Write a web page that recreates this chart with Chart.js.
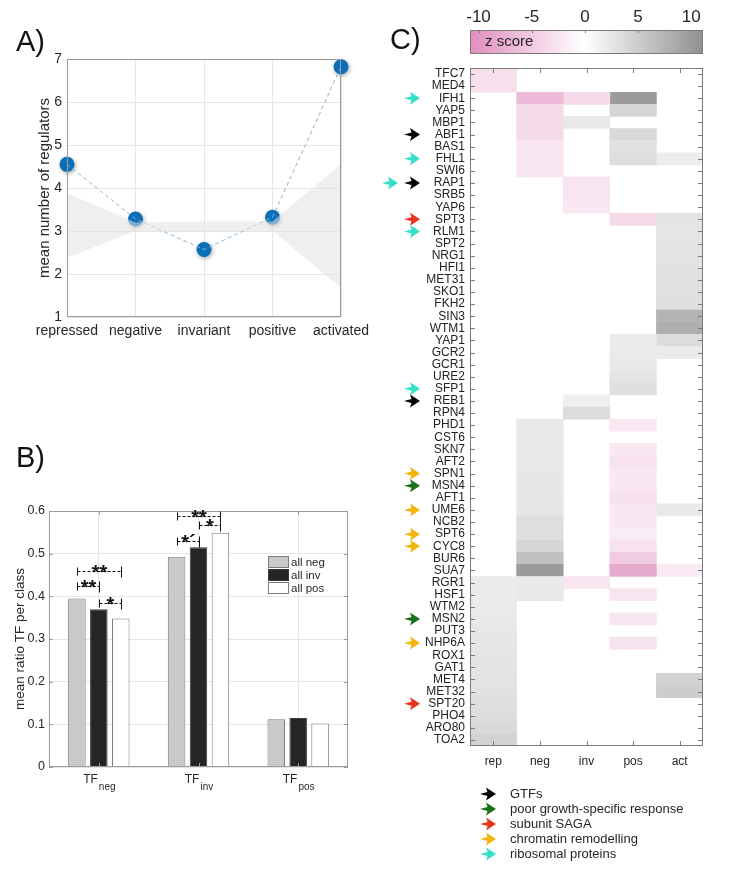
<!DOCTYPE html>
<html>
<head>
<meta charset="utf-8">
<script src="https://cdn.jsdelivr.net/npm/chart.js@4.4.1/dist/chart.umd.min.js"></script>
<style>
  body { margin: 0; background: #fff; font-family: "Liberation Sans", Arial, Helvetica, sans-serif; }
  #page { position: relative; width: 750px; height: 875px; overflow: hidden; }
  canvas { position: absolute; }
  .tag { position: absolute; font-size: 29px; color: #111; line-height: 33px; }
</style>
</head>
<body>
<div id="page">
  <canvas id="chartA" width="370" height="345" style="left:0;top:0"></canvas>
  <canvas id="chartB" width="370" height="380" style="left:0;top:440px"></canvas>
  <canvas id="chartC" width="380" height="875" style="left:370px;top:0"></canvas>
  <canvas id="cbar" width="380" height="62" style="left:370px;top:0"></canvas>
  <div class="tag" style="left:16px;top:25px">A)</div>
  <div class="tag" style="left:16px;top:441px">B)</div>
  <div class="tag" style="left:390px;top:23px">C)</div>
</div>
<script>
// ---- panel A ----
const stageLabels = ['repressed', 'negative', 'invariant', 'positive', 'activated'];
const meanRegulators = [4.55, 3.28, 2.57, 3.32, 6.82];
const nullUpper = [3.88, 3.2, 3.22, 3.22, 4.55];
const nullLower = [2.38, 3.0, 3.0, 3.0, 1.68];

// ---- panel B ----
const tfClasses = [['TF', 'neg'], ['TF', 'inv'], ['TF', 'pos']];
const seriesNames = ['all neg', 'all inv', 'all pos'];
const allNeg = [0.395, 0.493, 0.112];
const allInv = [0.370, 0.515, 0.115];
const allPos = [0.348, 0.549, 0.102];
// significance brackets: class, from series, to series, height, label
const sigClass = [0, 0, 0, 1, 1, 1];
const sigFrom = [0, 0, 1, 0, 0, 1];
const sigTo = [2, 1, 2, 2, 1, 2];
const sigLevel = [0.459, 0.425, 0.385, 0.588, 0.530, 0.567];
const sigText = ['**', '**', '*', '**', '*\u00b4', '*'];

// ---- panel C ----
const N = null;
const genes = ['TFC7', 'MED4', 'IFH1', 'YAP5', 'MBP1', 'ABF1', 'BAS1', 'FHL1',
  'SWI6', 'RAP1', 'SRB5', 'YAP6', 'SPT3', 'RLM1', 'SPT2', 'NRG1',
  'HFI1', 'MET31', 'SKO1', 'FKH2', 'SIN3', 'WTM1', 'YAP1', 'GCR2',
  'GCR1', 'URE2', 'SFP1', 'REB1', 'RPN4', 'PHD1', 'CST6', 'SKN7',
  'AFT2', 'SPN1', 'MSN4', 'AFT1', 'UME6', 'NCB2', 'SPT6', 'CYC8',
  'BUR6', 'SUA7', 'RGR1', 'HSF1', 'WTM2', 'MSN2', 'PUT3', 'NHP6A',
  'ROX1', 'GAT1', 'MET4', 'MET32', 'SPT20', 'PHO4', 'ARO80', 'TOA2'];
const colLabels = ['rep', 'neg', 'inv', 'pos', 'act'];
const zRep = [-3, -3, N, N, N, N, N, N,
  N, N, N, N, N, N, N, N,
  N, N, N, N, N, N, N, N,
  N, N, N, N, N, N, N, N,
  N, N, N, N, N, N, N, N,
  N, N, 2.0, 2.0, 2.1, 2.2, 2.4, 2.5,
  2.6, 2.7, 2.8, 2.9, 3.2, 3.4, 3.8, 4.4];
const zNeg = [N, N, -6.5, -3.5, -3.5, -3.5, -2.5, -2.5,
  -2.5, N, N, N, N, N, N, N,
  N, N, N, N, N, N, N, N,
  N, N, N, N, N, 2.3, 2.3, 2.3,
  2.3, 2.4, 2.4, 2.4, 2.5, 3.2, 3.3, 4.2,
  6.2, 10, 2.2, 2.2, N, N, N, N,
  N, N, N, N, N, N, N, N];
const zInv = [N, N, -3.5, N, 2.2, N, N, N,
  N, -2.5, -2.5, -2.3, N, N, N, N,
  N, N, N, N, N, N, N, N,
  N, N, N, 1.6, 3.5, N, N, N,
  N, N, N, N, N, N, N, N,
  N, N, -2.5, N, N, N, N, N,
  N, N, N, N, N, N, N, N];
const zPos = [N, N, 10, 4.2, N, 3.8, 3.0, 3.3,
  N, N, N, N, -3.5, N, N, N,
  N, N, N, N, N, N, 2.0, 2.0,
  2.3, 2.7, 3.2, N, N, -2.3, N, -2.2,
  -2.8, -2.3, -2.3, -3, -2.3, -2.3, -1.8, -2.8,
  -5, -8, N, -2.5, N, -2.5, N, -2.7,
  N, N, N, N, N, N, N, N];
const zAct = [N, N, N, N, N, N, N, 1.8,
  N, N, N, N, 2.8, 2.6, 2.7, 2.8,
  2.9, 3.0, 3.1, 3.2, 7.5, 8.0, 3.5, 2.0,
  N, N, N, N, N, N, N, N,
  N, N, N, N, 2.2, N, N, N,
  N, -2, N, N, N, N, N, N,
  N, N, 4.5, 5.0, N, N, N, N];
const zColumns = [zRep, zNeg, zInv, zPos, zAct];
const zMin = -10.8;
const zMax = 11.1;
const zTicks = [-10, -5, 0, 5, 10];

const groupNames = ['GTFs', 'poor growth-specific response', 'subunit SAGA', 'chromatin remodelling', 'ribosomal proteins'];
const groupColors = ['#000000', '#17701a', '#ea3320', '#f4b40e', '#35e0c8'];
const arrowGenes = ['IFH1', 'ABF1', 'FHL1', 'RAP1', 'RAP1', 'SPT3', 'RLM1', 'SFP1', 'REB1',
  'SPN1', 'MSN4', 'UME6', 'SPT6', 'CYC8', 'MSN2', 'NHP6A', 'SPT20'];
const arrowGroup = [4, 0, 4, 0, 4, 2, 4, 4, 0, 3, 1, 3, 3, 3, 1, 3, 2];

const FONT = '"Liberation Sans", Arial, Helvetica, sans-serif';
Chart.defaults.font.family = FONT;
Chart.defaults.color = '#262626';

function zColor(z) {
  if (z === null) return 'rgba(0,0,0,0)';
  const t = Math.min(Math.abs(z) / 11, 1);
  const end = z < 0 ? [224, 140, 190] : [145, 145, 145];
  return 'rgb(' + end.map((e) => Math.round(255 + (e - 255) * t)).join(',') + ')';
}

// box around the plot area with inward tick marks (matlab style)
const framePlugin = {
  id: 'frame',
  afterDatasetsDraw(chart, args, opts) {
    const { ctx, chartArea: a, scales } = chart;
    const len = opts.tick || 0;
    ctx.save();
    ctx.strokeStyle = opts.color || '#999';
    ctx.lineWidth = 1;
    ctx.beginPath();
    if (len > 0) {
      Object.values(scales).forEach((s) => {
        if (!s.options.display) return;
        s.ticks.forEach((t, i) => {
          const p = Math.round(s.getPixelForTick(i)) + 0.5;
          if (s.isHorizontal()) {
            if (opts.bottom !== false) { ctx.moveTo(p, a.bottom); ctx.lineTo(p, a.bottom - len); }
            ctx.moveTo(p, a.top); ctx.lineTo(p, a.top + len);
          } else {
            ctx.moveTo(a.left, p); ctx.lineTo(a.left + len, p);
            ctx.moveTo(a.right, p); ctx.lineTo(a.right - len, p);
          }
        });
      });
    }
    ctx.stroke();
    ctx.strokeRect(Math.round(a.left) + 0.5, Math.round(a.top) + 0.5,
      Math.round(a.right - a.left) - 1, Math.round(a.bottom - a.top) - 1);
    ctx.restore();
  },
};

const shadowPlugin = {
  id: 'pointShadow',
  beforeDatasetDraw(chart, args) {
    if (args.index !== 3) return;
    const c = chart.ctx;
    c.save();
    c.shadowColor = 'rgba(0,0,0,0.35)';
    c.shadowBlur = 4;
    c.shadowOffsetX = 1;
    c.shadowOffsetY = 1.5;
  },
  afterDatasetDraw(chart, args) {
    if (args.index === 3) chart.ctx.restore();
  },
};

// A) mean number of regulators
new Chart(document.getElementById('chartA'), {
  type: 'line',
  data: {
    labels: stageLabels,
    datasets: [
      { data: nullUpper, borderWidth: 0, pointRadius: 0, fill: '+1', backgroundColor: 'rgba(226,226,226,0.55)' },
      { data: nullLower, borderWidth: 0, pointRadius: 0, fill: false },
      { data: meanRegulators, borderColor: '#86b4da', borderWidth: 1, borderDash: [4, 3], pointRadius: 0, fill: false },
      { data: meanRegulators, showLine: false, pointRadius: 7.5, pointBackgroundColor: '#0a6fb8', pointBorderWidth: 0, clip: false },
    ],
  },
  options: {
    responsive: false,
    animation: false,
    layout: { padding: { left: 36, right: 29, top: 59, bottom: 2 } },
    plugins: { legend: { display: false }, tooltip: { enabled: false }, frame: { color: '#9a9a9a', tick: 0 } },
    scales: {
      x: {
        offset: false,
        grid: { color: '#e6e6e6', drawTicks: false },
        border: { display: false },
        ticks: { font: { size: 14 }, padding: 6, maxRotation: 0, autoSkip: false },
        afterFit(s) { s.height = 26; s.paddingLeft = 0; s.paddingRight = 0; },
      },
      y: {
        min: 1,
        max: 7,
        grid: { color: '#e6e6e6', drawTicks: false },
        border: { display: false },
        ticks: { stepSize: 1, font: { size: 14 }, padding: 5 },
        title: { display: true, text: 'mean number of regulators', font: { size: 15 }, padding: { top: 0, bottom: 0 } },
        afterFit(s) { s.width = 31; s.paddingTop = 0; s.paddingBottom = 0; },
      },
    },
  },
  plugins: [framePlugin, shadowPlugin],
});

// B) decorations: subscript class labels, significance brackets, legend
const panelBPlugin = {
  id: 'panelB',
  afterDraw(chart) {
    const { ctx, scales: { x, y } } = chart;
    ctx.save();
    ctx.fillStyle = '#262626';
    ctx.textBaseline = 'alphabetic';
    tfClasses.forEach(([main, sub], i) => {
      const cx = x.getPixelForValue(i);
      ctx.font = '12px ' + FONT;
      const w1 = ctx.measureText(main).width;
      ctx.font = '10px ' + FONT;
      const w2 = ctx.measureText(sub).width;
      const x0 = cx - (w1 + w2) / 2;
      ctx.font = '12px ' + FONT;
      ctx.textAlign = 'left';
      ctx.fillText(main, x0, 343);
      ctx.font = '10px ' + FONT;
      ctx.fillText(sub, x0 + w1 + 1, 350);
    });

    ctx.strokeStyle = '#111';
    ctx.lineWidth = 1;
    sigClass.forEach((c, k) => {
      const x1 = Math.round(chart.getDatasetMeta(sigFrom[k]).data[c].x) + 0.5;
      const x2 = Math.round(chart.getDatasetMeta(sigTo[k]).data[c].x) + 0.5;
      const yy = Math.round(y.getPixelForValue(sigLevel[k])) + 0.5;
      ctx.setLineDash([3, 2]);
      ctx.beginPath();
      ctx.moveTo(x1, yy);
      ctx.lineTo(x2, yy);
      ctx.stroke();
      ctx.setLineDash([]);
      ctx.beginPath();
      ctx.moveTo(x1, yy - 4); ctx.lineTo(x1, yy + 4);
      ctx.moveTo(x2, yy - 5); ctx.lineTo(x2, yy + 6);
      ctx.stroke();
      ctx.font = 'bold 20px ' + FONT;
      ctx.textAlign = 'center';
      ctx.fillStyle = '#111';
      ctx.fillText(sigText[k], (x1 + x2) / 2, yy + 7);
    });

    chart.data.datasets.forEach((ds, i) => {
      const ly = 122 + i * 13;
      ctx.fillStyle = ds.backgroundColor;
      ctx.fillRect(268.5, ly - 5.5, 20, 11);
      ctx.strokeStyle = ds.borderColor;
      ctx.strokeRect(268.5, ly - 5.5, 20, 11);
      ctx.fillStyle = '#262626';
      ctx.font = '11.5px ' + FONT;
      ctx.textAlign = 'left';
      ctx.textBaseline = 'middle';
      ctx.fillText(ds.label, 291, ly + 1);
    });
    ctx.restore();
  },
};

new Chart(document.getElementById('chartB'), {
  type: 'bar',
  data: {
    labels: tfClasses.map((c) => c.join('')),
    datasets: [
      { label: seriesNames[0], data: allNeg, backgroundColor: '#c9c9c9', borderColor: '#7c7c7c', borderWidth: 1 },
      { label: seriesNames[1], data: allInv, backgroundColor: '#252525', borderColor: '#3a3a3a', borderWidth: 1 },
      { label: seriesNames[2], data: allPos, backgroundColor: '#ffffff', borderColor: '#7c7c7c', borderWidth: 1 },
    ],
  },
  options: {
    responsive: false,
    animation: false,
    datasets: { bar: { categoryPercentage: 0.66, barPercentage: 0.8 } },
    layout: { padding: { left: 8, right: 22, top: 71, bottom: 23 } },
    plugins: { legend: { display: false }, tooltip: { enabled: false }, frame: { color: '#9a9a9a', tick: 4 } },
    scales: {
      x: {
        grid: { offset: false, color: '#e6e6e6', drawTicks: false },
        border: { display: false },
        ticks: { display: false },
        afterFit(s) { s.height = 30; s.paddingLeft = 0; s.paddingRight = 0; },
      },
      y: {
        min: 0,
        max: 0.6,
        grid: { color: '#e6e6e6', drawTicks: false },
        border: { display: false },
        ticks: { stepSize: 0.1, font: { size: 12.5 }, padding: 4 },
        title: { display: true, text: 'mean ratio TF per class', font: { size: 13.5 }, padding: { top: 4, bottom: 0 } },
        afterFit(s) { s.width = 41; s.paddingTop = 0; s.paddingBottom = 0; },
      },
    },
  },
  plugins: [framePlugin, panelBPlugin],
});

// C) heatmap arrows + arrow legend
function drawArrow(ctx, x, y, color) {
  ctx.fillStyle = color;
  ctx.beginPath();
  ctx.moveTo(x, y);
  ctx.lineTo(x - 10, y - 6.5);
  ctx.lineTo(x - 8.5, y - 2);
  ctx.lineTo(x - 16, y);
  ctx.lineTo(x - 8.5, y + 2);
  ctx.lineTo(x - 10, y + 6.5);
  ctx.closePath();
  ctx.fill();
}

const arrowPlugin = {
  id: 'arrows',
  afterDraw(chart) {
    const { ctx, scales: { y } } = chart;
    ctx.save();
    const seen = {};
    arrowGenes.forEach((g, k) => {
      seen[g] = (seen[g] || 0) + 1;
      const tip = 50 - (seen[g] - 1) * 22;
      drawArrow(ctx, tip, y.getPixelForValue(genes.indexOf(g)), groupColors[arrowGroup[k]]);
    });
    ctx.font = '13px ' + FONT;
    ctx.textAlign = 'left';
    ctx.textBaseline = 'middle';
    groupNames.forEach((name, i) => {
      const ly = 794 + i * 15;
      drawArrow(ctx, 126, ly, groupColors[i]);
      ctx.fillStyle = '#262626';
      ctx.fillText(name, 140, ly);
    });
    ctx.restore();
  },
};

new Chart(document.getElementById('chartC'), {
  type: 'bar',
  data: {
    labels: genes,
    datasets: zColumns.map((z, c) => ({
      label: colLabels[c],
      data: z.map((v) => (v === null ? null : [c + 0.5, c + 1.5])),
      backgroundColor: z.map(zColor),
      borderWidth: 0,
      grouped: false,
      barPercentage: 1,
      categoryPercentage: 1,
    })),
  },
  options: {
    indexAxis: 'y',
    responsive: false,
    animation: false,
    layout: { padding: { left: 0, right: 47, top: 68, bottom: 99 } },
    plugins: { legend: { display: false }, tooltip: { enabled: false }, frame: { color: '#7a7a7a', tick: 5 } },
    scales: {
      x: {
        type: 'linear',
        min: 0.5,
        max: 5.5,
        afterBuildTicks(s) { s.ticks = colLabels.map((_, i) => ({ value: i + 1 })); },
        grid: { display: false, drawTicks: false },
        border: { display: false },
        ticks: { callback: (v) => colLabels[v - 1], font: { size: 12 }, padding: 8, maxRotation: 0, autoSkip: false },
        afterFit(s) { s.height = 30; s.paddingLeft = 0; s.paddingRight = 0; },
      },
      y: {
        grid: { display: false, drawTicks: false },
        border: { display: false },
        ticks: { font: { size: 12 }, color: '#222', padding: 5, autoSkip: false },
        afterFit(s) { s.width = 100; s.paddingTop = 0; s.paddingBottom = 0; },
      },
    },
  },
  plugins: [framePlugin, arrowPlugin],
});

// colour bar
const colorbarPlugin = {
  id: 'colorbar',
  beforeDatasetsDraw(chart) {
    const { ctx, chartArea: a, scales: { x } } = chart;
    ctx.save();
    for (let px = Math.floor(a.left); px < a.right; px++) {
      ctx.fillStyle = zColor(x.getValueForPixel(px + 0.5));
      ctx.fillRect(px, a.top, 1, a.bottom - a.top);
    }
    ctx.fillStyle = '#262626';
    ctx.font = '15px ' + FONT;
    ctx.textBaseline = 'middle';
    ctx.fillText('z score', a.left + 15, (a.top + a.bottom) / 2);
    ctx.restore();
  },
};

new Chart(document.getElementById('cbar'), {
  type: 'scatter',
  data: { datasets: [] },
  options: {
    responsive: false,
    animation: false,
    layout: { padding: { left: 100, right: 47, top: 0, bottom: 8 } },
    plugins: { legend: { display: false }, tooltip: { enabled: false }, frame: { color: '#7a7a7a', tick: 3, bottom: false } },
    scales: {
      x: {
        type: 'linear',
        position: 'top',
        min: zMin,
        max: zMax,
        afterBuildTicks(s) { s.ticks = zTicks.map((v) => ({ value: v })); },
        grid: { display: false, drawTicks: false },
        border: { display: false },
        ticks: { font: { size: 17 }, padding: 2 },
        afterFit(s) { s.height = 30; s.paddingLeft = 0; s.paddingRight = 0; },
      },
      y: { display: false },
    },
  },
  plugins: [colorbarPlugin, framePlugin],
});
</script>
</body>
</html>
